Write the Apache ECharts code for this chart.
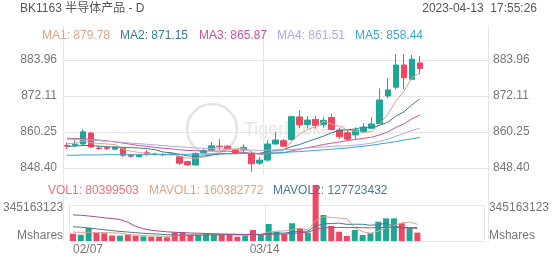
<!DOCTYPE html>
<html><head><meta charset="utf-8">
<script src="https://cdn.jsdelivr.net/npm/echarts@6/dist/echarts.min.js"></script>
<style>html,body{margin:0;padding:0;background:#fff}#c{width:552px;height:265px}</style>
</head><body><div id="c"></div>
<script>
// ---------- data ----------
const dates = ['02/07','02/08','02/09','02/10','02/13','02/14','02/15','02/16','02/17','02/20','02/21','02/22','02/23','02/24','02/27','02/28','03/01','03/02','03/03','03/06','03/07','03/08','03/09','03/10','03/13','03/14','03/15','03/16','03/17','03/20','03/21','03/22','03/23','03/24','03/27','03/28','03/29','03/30','03/31','04/03','04/04','04/06','04/07','04/10','04/11'];
const labelDates = ['02/07','03/14'];
const emptySlots = 8;
const open  = [855.8,855.9,856.3,859.9,855.0,855.1,854.6,854.9,852.5,852.1,853.4,853.0,852.8,853.0,852.1,850.5,849.4,853.4,854.3,855.6,855.6,854.3,854.3,853.1,850.0,851.0,856.3,857.4,857.8,865.2,862.7,864.4,862.7,865.0,860.9,860.0,859.3,860.4,861.5,863.0,872.1,875.0,882.3,877.6,883.0];
const close = [855.6,856.3,860.3,855.3,854.8,854.8,855.2,852.6,852.3,852.7,853.2,852.9,852.7,852.8,850.0,849.4,853.2,854.1,855.7,855.4,854.7,853.3,855.2,849.8,851.0,856.3,857.6,855.6,865.3,862.6,864.2,862.4,864.1,861.1,858.7,857.9,860.9,861.8,862.9,870.8,874.1,882.3,878.1,884.2,881.2];
const low   = [854.6,855.4,856.0,855.0,854.4,854.3,854.4,852.0,851.8,851.9,852.4,852.5,852.3,852.5,849.4,849.2,849.2,853.1,854.1,854.4,854.5,853.0,853.6,847.2,849.4,850.5,856.1,855.2,857.4,861.5,861.4,861.4,861.8,860.9,858.0,857.3,857.6,859.9,861.2,862.8,871.4,874.3,874.3,877.3,879.3];
const high  = [856.8,857.6,861.1,860.2,855.6,855.6,855.5,855.1,853.1,853.0,854.3,853.4,853.3,853.4,852.4,850.8,853.6,854.6,857.0,857.9,855.9,854.6,856.2,853.8,852.0,857.6,860.3,857.9,865.6,867.3,865.5,865.5,865.1,866.2,861.6,860.9,861.8,863.2,865.1,874.6,877.9,885.9,885.9,885.6,885.3];
const ma1 = [856.4,856.6,857.3,856.7,856.47,856.31,856.09,854.54,853.94,853.52,853.2,852.74,852.76,852.9,852.36,851.6,851.66,851.94,852.48,853.58,854.64,854.66,854.88,853.7,852.8,853.12,853.98,854.06,857.16,859.48,861.06,862.02,863.72,862.88,862.1,860.84,860.54,860.08,860.44,862.86,866.1,870.38,873.64,877.9,879.78];
const ma2 = [855.5,855.6,855.8,855.8,855.6,855.4,855.3,855.2,855.1,855.0,854.76,854.42,853.65,853.42,852.94,852.4,852.2,852.35,852.69,852.97,853.12,853.16,853.41,853.09,853.19,853.88,854.32,854.47,855.43,856.14,857.09,858.0,858.89,860.02,860.79,860.95,861.28,861.9,861.66,862.48,863.47,865.46,866.86,869.17,871.15];
const ma3 = [858.2,858.1,858.0,857.8,857.6,857.3,857.0,856.6,856.2,855.8,855.5,855.2,854.9,854.7,854.4,854.2,854.1,854.0,854.0,853.98,853.94,853.79,853.53,853.26,853.07,853.14,853.26,853.41,854.06,854.56,855.11,855.58,856.15,856.56,856.99,857.42,857.8,858.19,858.55,859.31,860.28,861.73,862.88,864.6,865.87];
const ma4 = [857.9,857.8,857.7,857.6,857.4,857.2,857.0,856.8,856.6,856.4,856.2,856.0,855.8,855.6,855.4,855.2,855.0,854.9,854.8,854.7,854.6,854.5,854.4,854.3,854.2,854.2,854.3,854.4,854.5,854.7,855.0,855.19,855.32,855.51,855.64,855.74,855.93,856.24,856.59,857.2,857.89,858.87,859.72,860.76,861.51];
const ma5 = [852.6,852.6,852.7,852.7,852.7,852.8,852.8,852.8,852.8,852.8,852.9,852.9,852.9,852.9,852.9,852.9,853.0,853.0,853.0,853.1,853.1,853.1,853.2,853.2,853.2,853.3,853.4,853.5,853.7,853.8,854.0,854.2,854.4,854.6,854.8,855.0,855.3,855.6,855.9,856.3,856.7,857.1,857.6,858.0,858.44];
const volume = [70.4e6,60.1e6,125.3e6,78.2e6,74.1e6,52.3e6,51.8e6,60.2e6,51.1e6,44.3e6,41.2e6,40.8e6,35.3e6,83.1e6,82.7e6,58.2e6,57.9e6,67.3e6,66.8e6,58.1e6,57.8e6,41.3e6,55.2e6,105.4e6,58.3e6,163.2e6,89.1e6,66.9e6,170.3e6,122.1e6,80.2e6,537.4e6,249.1e6,144.2e6,88.9e6,48.3e6,105.2e6,58.1e6,74.3e6,185.2e6,216.8e6,217.3e6,170.1e6,122.3e6,80399503];
const mavol1 = [85e6,83e6,84e6,82e6,81.4e6,77.8e6,76.2e6,63.2e6,57.8e6,51.8e6,49.6e6,47.4e6,42.4e6,48.8e6,56.6e6,60.0e6,63.4e6,69.8e6,66.6e6,61.6e6,61.6e6,58.2e6,55.8e6,63.4e6,63.4e6,84.4e6,94.0e6,96.4e6,109.4e6,122.2e6,105.6e6,195.2e6,231.6e6,226.4e6,219.8e6,213.4e6,127.0e6,88.8e6,74.8e6,94.0e6,127.8e6,150.2e6,172.6e6,182.2e6,160382772];
const mavol2 = [137e6,132e6,125e6,116e6,108e6,100e6,92e6,86e6,80e6,74e6,70e6,66e6,60e6,57e6,56e6,55.5e6,55.8e6,56.3e6,57.7e6,59.1e6,60.8e6,60.8e6,62.8e6,65.0e6,62.5e6,73.0e6,76.1e6,76.1e6,86.4e6,92.8e6,95.0e6,144.6e6,164.0e6,167.9e6,171.0e6,159.5e6,161.1e6,160.2e6,150.6e6,156.9e6,170.6e6,138.6e6,130.7e6,128.5e6,127723432];
const mavol3 = [250e6,247e6,240e6,232e6,222e6,216e6,206e6,180e6,140e6,118e6,103e6,95e6,88e6,84e6,80e6,77e6,75e6,72e6,70e6,68e6,66e6,64e6,62e6,62e6,61e6,64e6,66e6,66e6,72e6,78e6,85e6,110e6,125e6,130e6,130e6,128e6,130e6,128e6,126e6,128e6,130e6,130e6,127e6,124e6,122e6];
const priceTicks = [848.40, 860.25, 872.11, 883.96];
const volTick = 345163123;

// ---------- chart ----------
const FONT = "'Liberation Sans', Arial, 'Noto Sans CJK SC', sans-serif";
const UP = '#1ea797', DOWN = '#ef4762';
const MA_COLORS = ['#d9a58b', '#3e7b8d', '#c8559b', '#aeaadf', '#3ba7c9'];
const GRID_C = '#e6e6e6';
const cats = dates.concat(Array.from({length: emptySlots}, (_, k) => ' '.repeat(k + 1)));
const labelIdx = labelDates.map(d => dates.indexOf(d));
const candle = dates.map((d, i) => [open[i], close[i], low[i], high[i]]);
const last = a => a[a.length - 1];

const chart = echarts.init(document.getElementById('c'), null, {renderer: 'canvas', width: 552, height: 265});

const maRich = {};
['a','b','c','d','e'].forEach((k, i) => { maRich[k] = {color: MA_COLORS[i], fontSize: 12, lineHeight: 14, width: i === 1 ? 79 : 78, fontFamily: FONT}; });

const axisLblStyle = {color: '#777', fontSize: 12, fontFamily: FONT};

const option = {
  animation: false,
  backgroundColor: '#fff',
  textStyle: {fontFamily: FONT},
  title: [
    {text: 'BK1163 半导体产品 - D', left: 20, top: 2, padding: 0,
     textStyle: {fontSize: 12, fontWeight: 'normal', color: '#555', fontFamily: FONT, lineHeight: 14}},
    {text: '2023-04-13  17:55:26', right: 15, top: 2, padding: 0,
     textStyle: {fontSize: 12, fontWeight: 'normal', color: '#555', fontFamily: FONT, lineHeight: 14}},
    {text: '{a|MA1: ' + last(ma1).toFixed(2) + '}{b|MA2: ' + last(ma2).toFixed(2) + '}{c|MA3: ' + last(ma3).toFixed(2) + '}{d|MA4: ' + last(ma4).toFixed(2) + '}{e|MA5: ' + last(ma5).toFixed(2) + '}',
     left: 42, top: 29, padding: 0,
     textStyle: {fontSize: 12, fontWeight: 'normal', rich: maRich}},
    {text: '{v|VOL1: ' + last(volume) + '}{m1|MAVOL1: ' + last(mavol1) + '}{m2|MAVOL2: ' + last(mavol2) + '}',
     left: 48, top: 184, padding: 0,
     textStyle: {fontSize: 12, fontWeight: 'normal', rich: {
       v: {color: '#e8707e', width: 101, fontSize: 12, lineHeight: 14, fontFamily: FONT},
       m1: {color: MA_COLORS[0], width: 124, fontSize: 12, lineHeight: 14, fontFamily: FONT},
       m2: {color: '#4a7a8e', fontSize: 12, lineHeight: 14, fontFamily: FONT}}}}
  ],
  graphic: [
    {type: 'circle', z: 0, silent: true, shape: {cx: 212, cy: 129, r: 25}, style: {fill: 'none', stroke: '#e3e3e3', lineWidth: 2.5}},
    {type: 'text', z: 0, silent: true, x: 244, y: 130, style: {text: 'TigerBrokers', fill: '#e6e6e6', font: '18px ' + FONT, verticalAlign: 'middle'}}
  ],
  grid: [
    {left: 63, right: 64, top: 26, height: 149},
    {left: 63, right: 64, top: 205, height: 36},
    {left: 63, right: 64, top: 26, height: 215}
  ],
  xAxis: [
    {type: 'category', gridIndex: 0, data: cats, boundaryGap: true,
     axisLine: {show: false}, axisTick: {show: false}, axisLabel: {show: false},
     splitLine: {show: true, interval: (i) => labelIdx.includes(i), lineStyle: {color: GRID_C}}},
    {type: 'category', gridIndex: 1, data: cats, boundaryGap: true,
     axisLine: {show: false}, axisTick: {show: false},
     axisLabel: Object.assign({show: true, interval: (i) => labelIdx.includes(i), margin: 3, alignMinLabel: 'left', padding: [0, 8, 0, 0]}, axisLblStyle),
     splitLine: {show: true, interval: (i) => labelIdx.includes(i), lineStyle: {color: GRID_C}}},
    {type: 'category', gridIndex: 2, data: cats, boundaryGap: true,
     axisLine: {show: false}, axisTick: {show: false}, axisLabel: {show: false},
     splitLine: {show: true, interval: (i) => i === dates.length + 5, lineStyle: {color: GRID_C}}}
  ],
  yAxis: [
    {type: 'value', gridIndex: 0, position: 'left', min: 846.10, max: 895.15,
     axisLine: {show: false}, axisTick: {show: false, customValues: priceTicks},
     axisLabel: Object.assign({customValues: priceTicks, formatter: v => v.toFixed(2), margin: 6}, axisLblStyle),
     splitLine: {show: true, lineStyle: {color: GRID_C}}},
    {type: 'value', gridIndex: 0, position: 'right', min: 846.10, max: 895.15,
     axisLine: {show: false}, axisTick: {show: false, customValues: priceTicks},
     axisLabel: Object.assign({customValues: priceTicks, formatter: v => v.toFixed(2), margin: 5}, axisLblStyle),
     splitLine: {show: false}},
    {type: 'value', gridIndex: 1, position: 'left', min: 0, max: volTick, interval: volTick,
     axisLine: {show: false}, axisTick: {show: false},
     axisLabel: Object.assign({margin: 6, showMinLabel: true, showMaxLabel: true,
       formatter: v => v === 0 ? '{m|Mshares}' : '{t|' + v + '}',
       rich: {m: {padding: [0, 0, 11, 0], lineHeight: 14, color: '#777', fontSize: 12, fontFamily: FONT},
              t: {padding: [5, 0, 0, 0], lineHeight: 14, color: '#777', fontSize: 12, fontFamily: FONT}}}, axisLblStyle),
     splitLine: {show: true, lineStyle: {color: GRID_C}}},
    {type: 'value', gridIndex: 1, position: 'right', min: 0, max: volTick, interval: volTick,
     axisLine: {show: false}, axisTick: {show: false},
     axisLabel: Object.assign({margin: 5, showMinLabel: true, showMaxLabel: true,
       formatter: v => v === 0 ? '{m|Mshares}' : '{t|' + v + '}',
       rich: {m: {padding: [0, 0, 11, 0], lineHeight: 14, color: '#777', fontSize: 12, fontFamily: FONT},
              t: {padding: [5, 0, 0, 0], lineHeight: 14, color: '#777', fontSize: 12, fontFamily: FONT}}}, axisLblStyle),
     splitLine: {show: false}},
    {type: 'value', gridIndex: 2, position: 'right', min: 0, max: 1,
     axisLine: {show: true, lineStyle: {color: GRID_C}}, axisTick: {show: false}, axisLabel: {show: false}, splitLine: {show: false}}
  ],
  series: [
    {type: 'candlestick', xAxisIndex: 0, yAxisIndex: 0, data: candle, barWidth: 6, z: 3,
     itemStyle: {color: UP, color0: DOWN, borderColor: UP, borderColor0: DOWN, borderWidth: 1}},
    ...[ma1, ma2, ma3, ma4, ma5].map((d, i) => ({type: 'line', xAxisIndex: 0, yAxisIndex: 0, data: d, symbol: 'none', z: 4,
      lineStyle: {color: MA_COLORS[i], width: 1}})),
    {type: 'bar', xAxisIndex: 1, yAxisIndex: 2, data: volume, barWidth: 6, clip: false,
     itemStyle: {color: p => close[p.dataIndex] >= open[p.dataIndex] ? UP : DOWN}},
    {type: 'line', xAxisIndex: 1, yAxisIndex: 2, data: mavol1, symbol: 'none', lineStyle: {color: MA_COLORS[0], width: 1}},
    {type: 'line', xAxisIndex: 1, yAxisIndex: 2, data: mavol2, symbol: 'none', lineStyle: {color: '#4a7a8e', width: 1}},
    {type: 'line', xAxisIndex: 1, yAxisIndex: 2, data: mavol3, symbol: 'none', lineStyle: {color: '#9d4f93', width: 1}}
  ]
};
chart.setOption(option);
</script>
</body></html>
